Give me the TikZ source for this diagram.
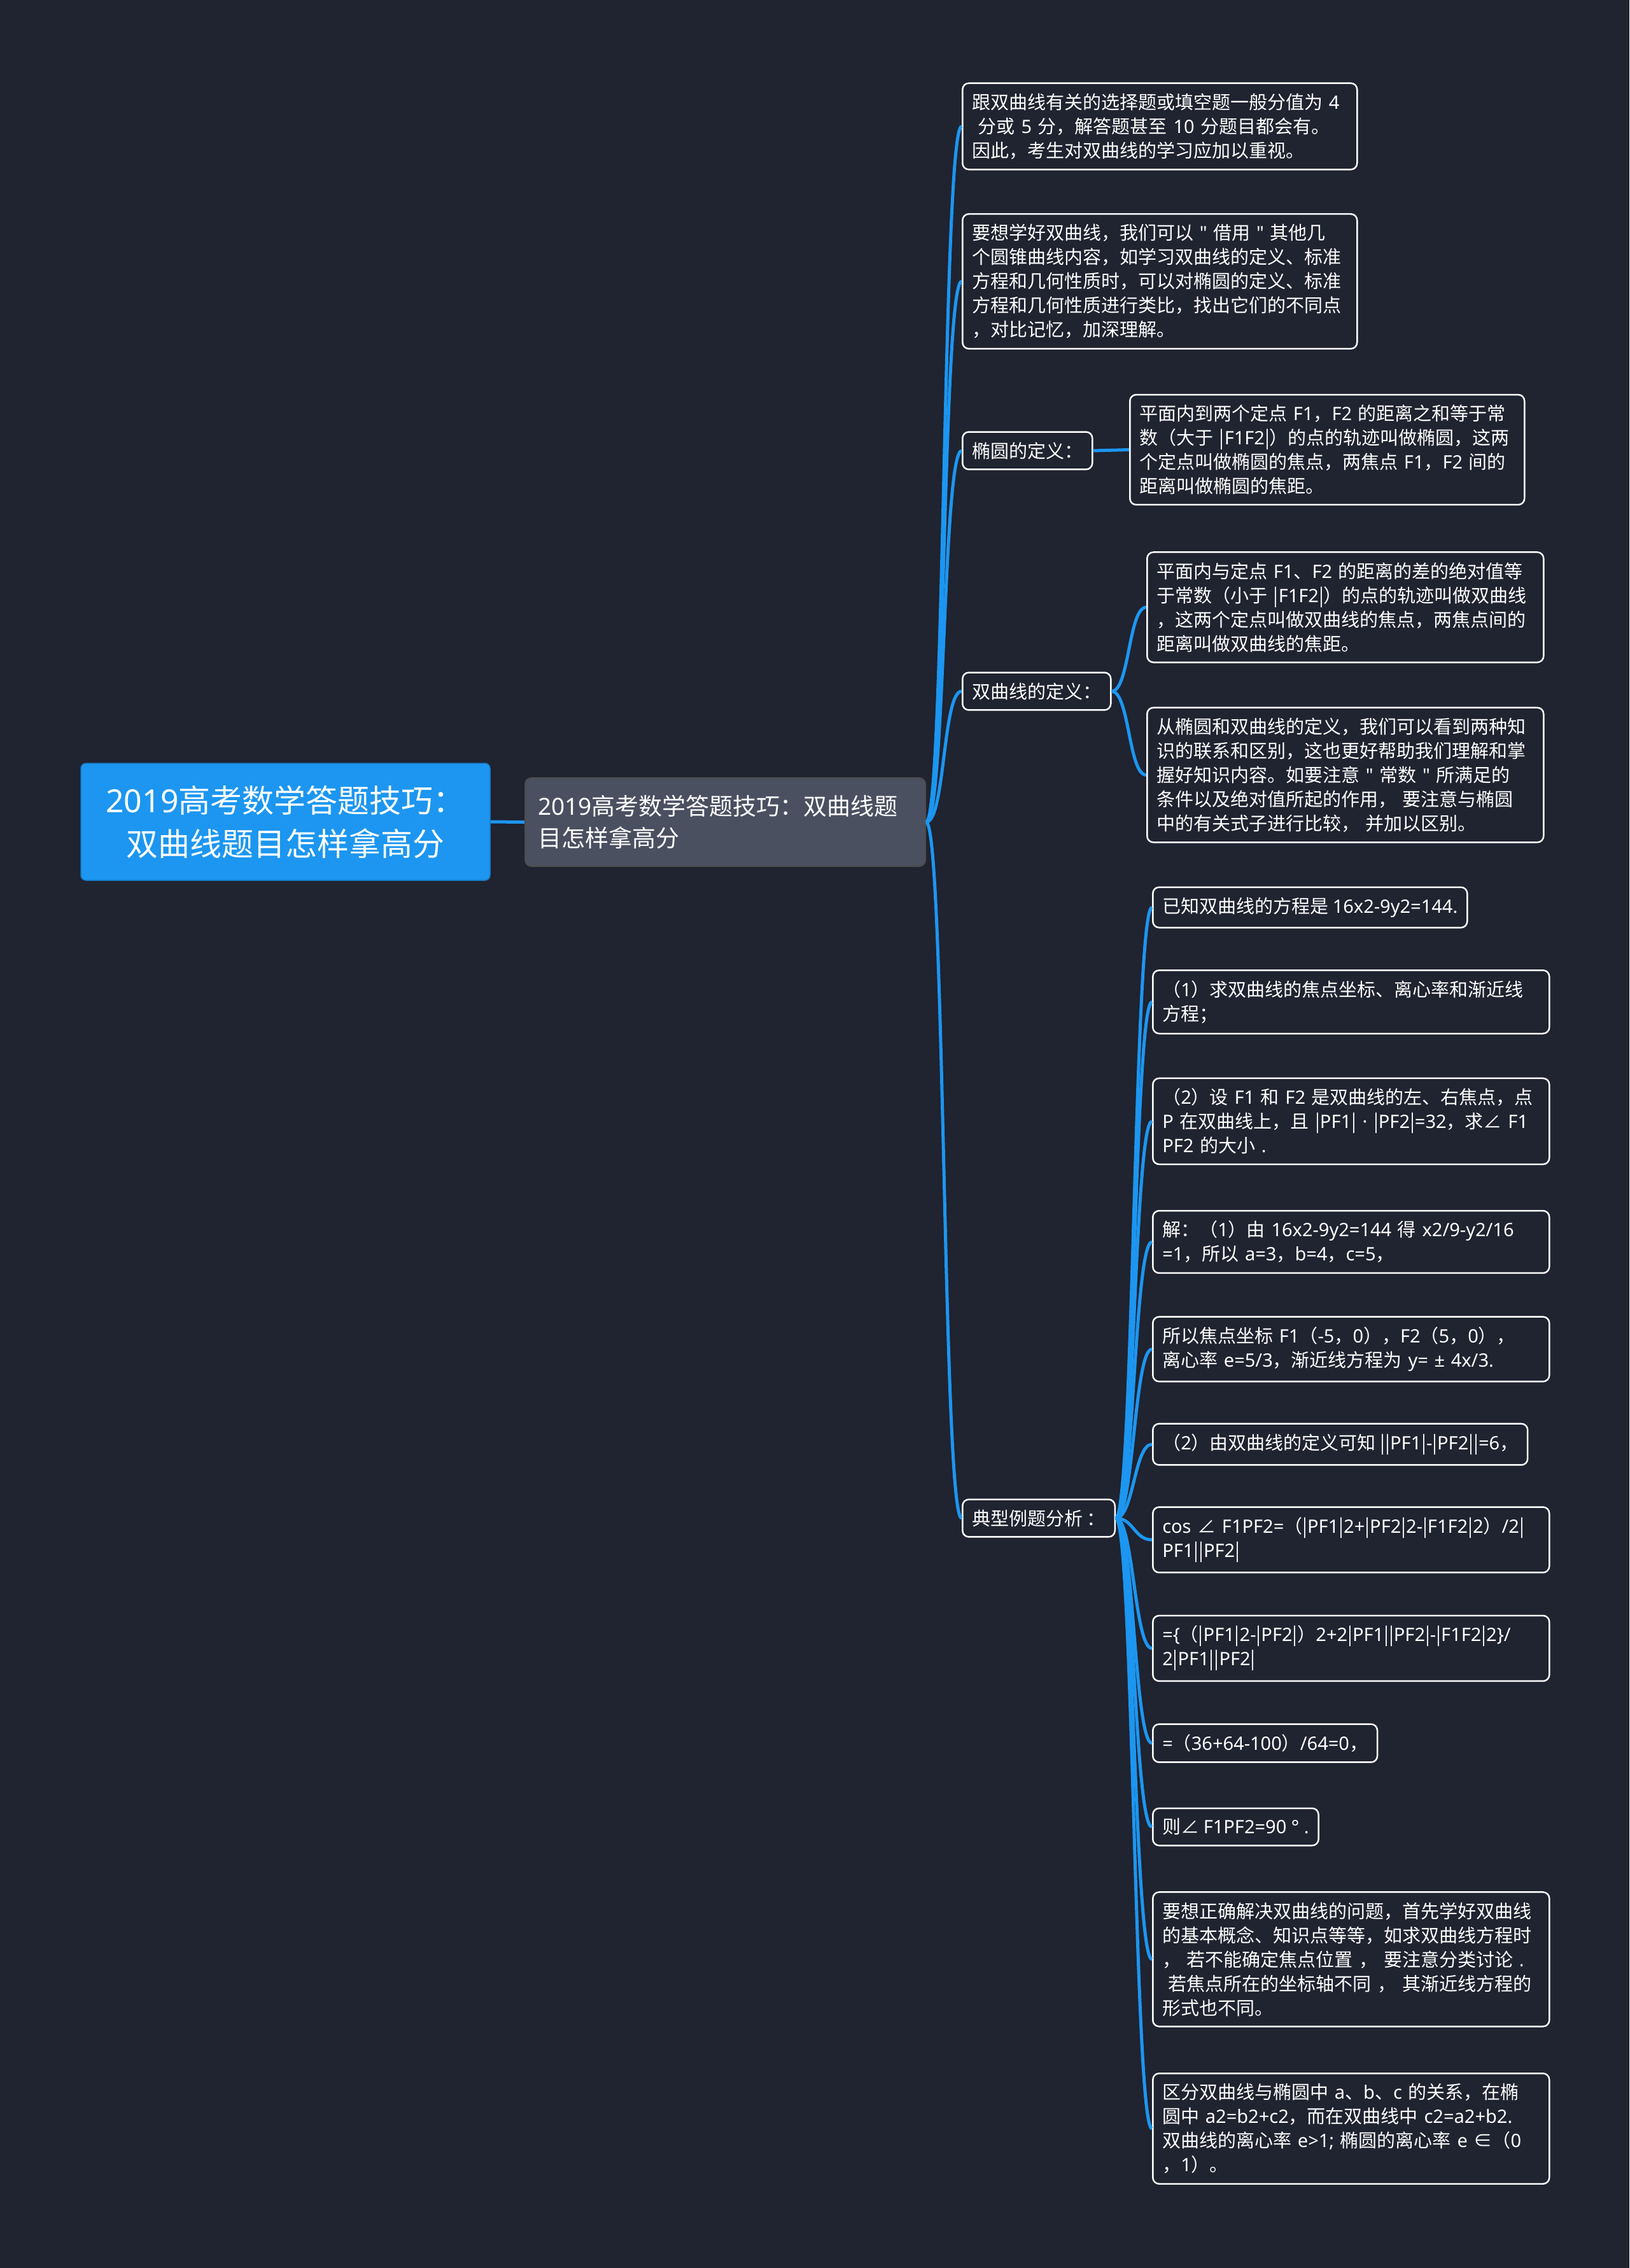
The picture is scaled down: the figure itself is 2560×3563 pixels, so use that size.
\documentclass[tikz,border=0pt]{standalone}
\usepackage{fontspec}
\newfontfamily\cjk{Noto Sans CJK SC}
\newfontfamily\latin{Noto Sans}
\XeTeXinterchartokenstate=1
\newXeTeXintercharclass\CJKcls
\newcount\cc
\newcommand\setcjkrange[2]{\cc=#1\relax
  \loop \XeTeXcharclass\cc=\CJKcls \ifnum\cc<#2\relax \advance\cc by 1 \repeat}
\setcjkrange{"4E00}{"9FFF}
\setcjkrange{"3000}{"303F}
\setcjkrange{"FF00}{"FFEF}
\XeTeXcharclass"2220=\CJKcls
\XeTeXcharclass"2208=\CJKcls
\XeTeXcharclass"007C=\CJKcls
\XeTeXinterchartoks 0 \CJKcls = {\cjk}
\XeTeXinterchartoks \CJKcls 0 = {\latin}
\XeTeXinterchartoks 4095 \CJKcls = {\cjk}
\XeTeXinterchartoks 4095 0 = {\latin}
\definecolor{bgc}{RGB}{32,35,48}
\definecolor{blueA}{RGB}{28,150,240}
\definecolor{mainfill}{RGB}{74,80,96}
\newcommand\Lx[1]{\mbox{#1}}
\newcommand\bodyfont{\latin\fontsize{29}{38}\selectfont}
\begin{document}
\begin{tikzpicture}[x=1pt,y=-1pt,
  leaf/.style={draw=white, line width=2.5pt, rounded corners=10pt, fill=bgc, text=white,
    font=\bodyfont, inner xsep=15pt, inner ysep=16pt, align=left, anchor=west},
  wide/.style={leaf, text width=593pt},
  wideb/.style={leaf, text width=590pt},
  conn/.style={draw=blueA, line width=5pt},
]
\useasboundingbox (0,0) rectangle (2560,3563);
\fill[bgc] (0,0) rectangle (2560,3563);

% root and main
\node[fill=blueA, draw=blueA!80!black, line width=1.5pt, rounded corners=8pt, minimum width=643pt, minimum height=184pt,
  text=white, align=center, font=\latin\fontsize{50}{68}\selectfont] (root) at (448.5,1291)
  {2019高考数学答题技巧：\\双曲线题目怎样拿高分};
\node[fill=mainfill, draw=black!70, line width=2pt, rounded corners=10pt, minimum width=629pt, minimum height=139pt,
  text width=589pt, inner xsep=20pt, align=left, text=white, font=\latin\fontsize{37}{50}\selectfont] (main) at (1139.5,1291.5)
  {\Lx{2019高考数学答题技巧：双曲线题}\\\Lx{目怎样拿高分}};

% level 2
\node[wideb] (A) at (1511,198.5)
  {\Lx{跟双曲线有关的选择题或填空题一般分值为 4}\\\Lx{\ 分或 5 分，解答题甚至 10 分题目都会有。}\\\Lx{因此，考生对双曲线的学习应加以重视。}};
\node[wideb] (B) at (1511,442)
  {\Lx{要想学好双曲线，我们可以 " 借用 " 其他几}\\\Lx{个圆锥曲线内容，如学习双曲线的定义、标准}\\\Lx{方程和几何性质时，可以对椭圆的定义、标准}\\\Lx{方程和几何性质进行类比，找出它们的不同点}\\\Lx{，对比记忆，加深理解。}};
\node[leaf] (ty) at (1511,708) {椭圆的定义：};
\node[leaf] (sq) at (1511,1086) {双曲线的定义：};
\node[leaf] (dx) at (1511,2385) {典型例题分析 ：};

% level 3
\node[wideb] (ty1) at (1774,706.5)
  {\Lx{平面内到两个定点 F1，F2 的距离之和等于常}\\\Lx{数（大于 |F1F2|）的点的轨迹叫做椭圆，这两}\\\Lx{个定点叫做椭圆的焦点，两焦点 F1，F2 间的}\\\Lx{距离叫做椭圆的焦距。}};
\node[wide] (sq1) at (1801,954)
  {\Lx{平面内与定点 F1、F2 的距离的差的绝对值等}\\\Lx{于常数（小于 |F1F2|）的点的轨迹叫做双曲线}\\\Lx{，这两个定点叫做双曲线的焦点，两焦点间的}\\\Lx{距离叫做双曲线的焦距。}};
\node[wide] (sq2) at (1801,1217.5)
  {\Lx{从椭圆和双曲线的定义，我们可以看到两种知}\\\Lx{识的联系和区别，这也更好帮助我们理解和掌}\\\Lx{握好知识内容。如要注意 " 常数 " 所满足的}\\\Lx{条件以及绝对值所起的作用， 要注意与椭圆}\\\Lx{中的有关式子进行比较， 并加以区别。}};

\node[leaf] (ea) at (1810,1425.5) {已知双曲线的方程是 16x2-9y2=144.};
\node[wide] (eb) at (1810,1574)
  {\Lx{（1）求双曲线的焦点坐标、离心率和渐近线}\\\Lx{方程；}};
\node[wide] (ec) at (1810,1761.5)
  {\Lx{（2）设 F1 和 F2 是双曲线的左、右焦点，点}\\\Lx{P 在双曲线上，且 |PF1| · |PF2|=32，求∠ F1}\\\Lx{PF2 的大小 .}};
\node[wide] (ed) at (1810,1951)
  {\Lx{解：（1）由 16x2-9y2=144 得 x2/9-y2/16}\\\Lx{=1，所以 a=3，b=4，c=5，}};
\node[wide] (ee) at (1810,2119.5)
  {\Lx{所以焦点坐标 F1（-5，0），F2（5，0），}\\\Lx{离心率 e=5/3，渐近线方程为 y= ± 4x/3.}};
\node[leaf] (ef) at (1810,2269) {（2）由双曲线的定义可知 ||PF1|-|PF2||=6，};
\node[wide] (eg) at (1810,2419)
  {\Lx{cos ∠ F1PF2=（|PF1|2+|PF2|2-|F1F2|2）/2|}\\\Lx{PF1||PF2|}};
\node[wide] (eh) at (1810,2589.5)
  {\Lx{=\{（|PF1|2-|PF2|）2+2|PF1||PF2|-|F1F2|2\}/}\\\Lx{2|PF1||PF2|}};
\node[leaf] (ei) at (1810,2738.5) {=（36+64-100）/64=0，};
\node[leaf] (ej) at (1810,2870) {则∠ F1PF2=90 ° .};
\node[wide] (ek) at (1810,3078)
  {\Lx{要想正确解决双曲线的问题，首先学好双曲线}\\\Lx{的基本概念、知识点等等，如求双曲线方程时}\\\Lx{， 若不能确定焦点位置 ， 要注意分类讨论 .}\\\Lx{\ 若焦点所在的坐标轴不同 ， 其渐近线方程的}\\\Lx{形式也不同。}};
\node[wide] (el) at (1810,3344)
  {\Lx{区分双曲线与椭圆中 a、b、c 的关系，在椭}\\\Lx{圆中 a2=b2+c2，而在双曲线中 c2=a2+b2.}\\\Lx{双曲线的离心率 e>1; 椭圆的离心率 e ∈（0}\\\Lx{，1）。}};

% connectors
\draw[conn] (root.east) -- (main.west);
\foreach \t in {A,B,ty,sq,dx}
  \draw[conn] (main.east) .. controls +(30,0) and +(-30,0) .. (\t.west);
\draw[conn] (ty.east) .. controls +(28,0) and +(-28,0) .. (ty1.west);
\foreach \t in {sq1,sq2}
  \draw[conn] (sq.east) .. controls +(28,0) and +(-28,0) .. (\t.west);
\foreach \t in {ea,eb,ec,ed,ee,ef,eg,eh,ei,ej,ek,el}
  \draw[conn] (dx.east) .. controls +(28,0) and +(-28,0) .. (\t.west);
\end{tikzpicture}
\end{document}
